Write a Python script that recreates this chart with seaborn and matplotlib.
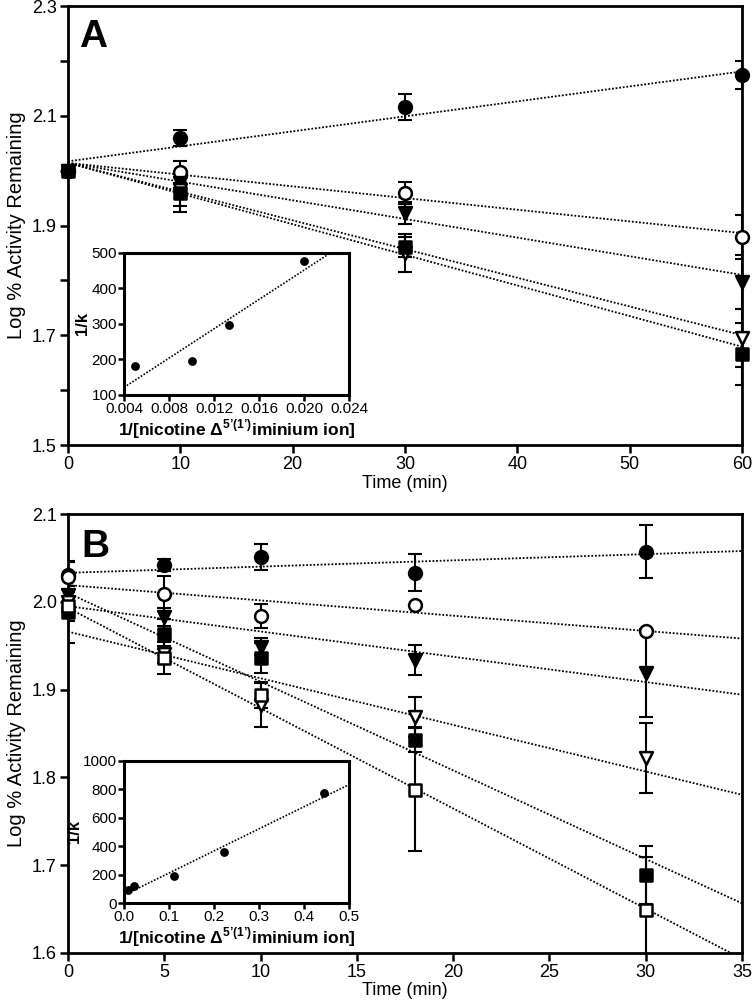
import numpy as np
import matplotlib
matplotlib.use("Agg")
import matplotlib.pyplot as plt
import seaborn as sns
from matplotlib import font_manager

# ---- panel A data ----
time_a = [0, 10, 30, 60]
a_fc = [2.000, 2.059, 2.116, 2.174]
a_fc_err = [0, 0.015, 0.024, 0.025]
a_oc = [2.000, 1.997, 1.959, 1.879]
a_oc_err = [0, 0.020, 0.020, 0.040]
a_ftri = [2.000, 1.978, 1.923, 1.797]
a_ftri_err = [0, 0.010, 0.020, 0.050]
a_otri = [2.000, 1.965, 1.850, 1.695]
a_otri_err = [0, 0.030, 0.035, 0.053]
a_fsq = [2.000, 1.959, 1.861, 1.666]
a_fsq_err = [0, 0.034, 0.018, 0.056]
# fitted lines (intercept, slope) for fc, oc, ftri, otri, fsq
a_icpt = [2.017, 2.014, 2.014, 2.014, 2.014]
a_slope = [0.00273, -0.00213, -0.0034, -0.00523, -0.00558]

# inset A
ins_a_x = [0.005, 0.010, 0.0133, 0.020]
ins_a_y = [182, 196, 297, 477]

# ---- panel B data ----
time_b = [0, 5, 10, 18, 30]
b_fc = [2.030, 2.042, 2.051, 2.033, 2.057]
b_fc_err = [0.015, 0.007, 0.015, 0.021, 0.030]
b_oc = [2.028, 2.009, 1.984, 1.996, 1.967]
b_oc_err = [0.017, 0.020, 0.014, 0, 0]
b_ftri = [2.008, 1.983, 1.949, 1.934, 1.919]
b_ftri_err = [0.010, 0.010, 0.010, 0.017, 0.050]
b_otri = [2.000, 1.940, 1.882, 1.869, 1.822]
b_otri_err = [0.047, 0.010, 0.025, 0.023, 0.040]
b_fsq = [1.988, 1.963, 1.936, 1.843, 1.689]
b_fsq_err = [0.010, 0.017, 0.017, 0.014, 0.033]
b_osq = [1.995, 1.936, 1.894, 1.786, 1.649]
b_osq_err = [0.010, 0.018, 0.015, 0.070, 0.060]
# fitted lines for fc, oc, ftri, otri, fsq, osq
b_icpt = [2.033, 2.019, 1.995, 1.966, 2.010, 1.993]
b_slope = [0.00071, -0.00174, -0.00288, -0.00531, -0.0101, -0.01142]

# inset B
ins_b_x = [0.009, 0.022, 0.111, 0.222, 0.444]
ins_b_y = [91, 120, 190, 358, 775]

sns.set_style("ticks")
names = {f.name for f in font_manager.fontManager.ttflist}
narrow = "Liberation Sans Narrow" if "Liberation Sans Narrow" in names else "Liberation Sans"
plt.rcParams['font.family'] = ['Liberation Sans', 'DejaVu Sans']
plt.rcParams['mathtext.fontset'] = 'custom'
plt.rcParams['mathtext.rm'] = 'Liberation Sans'
plt.rcParams['mathtext.bf'] = 'Liberation Sans:bold'
for k in ['text.color', 'axes.labelcolor', 'xtick.color', 'ytick.color', 'axes.edgecolor']:
    plt.rcParams[k] = 'black'

fig = plt.figure(figsize=(7.52, 10.01), dpi=100)
axA = fig.add_axes([0.0904, 0.5554, 0.8963, 0.4386])
axB = fig.add_axes([0.0904, 0.0480, 0.8963, 0.4385])

styles = {
    'fc': ('o', 'black'),
    'oc': ('o', 'white'),
    'ftri': ('v', 'black'),
    'otri': ('v', 'white'),
    'fsq': ('s', 'black'),
    'osq': ('s', 'white'),
}


def draw_series(ax, t, y, err, key):
    m, face = styles[key]
    ax.errorbar(t, y, yerr=err, fmt='none', ecolor='black', elinewidth=1.5,
                capsize=5, capthick=1.5, zorder=2)
    sns.scatterplot(x=t, y=y, marker=m, s=85, color=face, edgecolor='black',
                    linewidth=1.8, ax=ax, zorder=3, clip_on=False)


def fit_lines(ax, icpts, slopes):
    xs = np.array(ax.get_xlim())
    for b0, b1 in zip(icpts, slopes):
        ax.plot(xs, b0 + b1 * xs, color='black', lw=1.3, ls=(0, (1, 1)), zorder=1)


def style_main(ax):
    for s in ax.spines.values():
        s.set_linewidth(2.0)
    ax.tick_params(direction='out', length=6, width=1.8, pad=2, labelsize=13)
    for lab in ax.get_xticklabels() + ax.get_yticklabels():
        lab.set_family(narrow)


# panel A
axA.set_xlim(0, 60)
axA.set_ylim(1.5, 2.3)
axA.set_xticks(range(0, 61, 10))
yt = np.round(np.arange(1.5, 2.31, 0.1), 1)
axA.set_yticks(yt)
axA.set_yticklabels([f"{v:.1f}" if i % 2 == 0 else "" for i, v in enumerate(yt)])
fit_lines(axA, a_icpt, a_slope)
for t, y, e, k in [(time_a, a_fc, a_fc_err, 'fc'), (time_a, a_oc, a_oc_err, 'oc'),
                   (time_a, a_ftri, a_ftri_err, 'ftri'), (time_a, a_otri, a_otri_err, 'otri'),
                   (time_a, a_fsq, a_fsq_err, 'fsq')]:
    draw_series(axA, t, y, e, k)
style_main(axA)
axA.set_xlabel("Time (min)", fontsize=13, family=narrow, labelpad=1)
axA.set_ylabel("Log % Activity Remaining", fontsize=14.5, labelpad=4)
axA.text(0.017, 0.97, "A", transform=axA.transAxes, fontsize=28, fontweight='bold',
         ha='left', va='top')

# panel B
axB.set_xlim(0, 35)
axB.set_ylim(1.6, 2.1)
axB.set_xticks(range(0, 36, 5))
axB.set_yticks(np.round(np.arange(1.6, 2.11, 0.1), 1))
axB.set_yticklabels([f"{v:.1f}" for v in np.round(np.arange(1.6, 2.11, 0.1), 1)])
fit_lines(axB, b_icpt, b_slope)
for t, y, e, k in [(time_b, b_fc, b_fc_err, 'fc'), (time_b, b_oc, b_oc_err, 'oc'),
                   (time_b, b_ftri, b_ftri_err, 'ftri'), (time_b, b_otri, b_otri_err, 'otri'),
                   (time_b, b_fsq, b_fsq_err, 'fsq'), (time_b, b_osq, b_osq_err, 'osq')]:
    draw_series(axB, t, y, e, k)
style_main(axB)
axB.set_xlabel("Time (min)", fontsize=13, family=narrow, labelpad=1)
axB.set_ylabel("Log % Activity Remaining", fontsize=14.5, labelpad=4)
axB.text(0.02, 0.965, "B", transform=axB.transAxes, fontsize=28, fontweight='bold',
         ha='left', va='top')

inset_label = r"1/[nicotine $\mathbf{\Delta}^{\mathbf{5’(1’)}}$iminium ion]"


def draw_inset(rect, x, y, xlim, ylim, xticks, yticks, xfmt):
    ax = fig.add_axes(rect)
    ax.set_facecolor('white')
    ax.set_xlim(*xlim)
    ax.set_ylim(*ylim)
    sns.regplot(x=np.array(x), y=np.array(y), ax=ax, ci=None, truncate=False,
                scatter_kws={'s': 40, 'color': 'black', 'alpha': 1, 'zorder': 3, 'linewidths': 0},
                line_kws={'color': 'black', 'lw': 1.2, 'ls': (0, (1, 1))})
    ax.set_xlim(*xlim)
    ax.set_ylim(*ylim)
    ax.set_xticks(xticks)
    ax.set_xticklabels([xfmt.format(v) for v in xticks])
    ax.set_yticks(yticks)
    for s in ax.spines.values():
        s.set_linewidth(2.2)
    ax.tick_params(direction='out', length=4, width=1.8, pad=1, labelsize=11)
    ax.set_xlabel(inset_label, fontsize=12.5, fontweight='bold', labelpad=1)
    ax.set_ylabel("1/k", fontsize=12, fontweight='bold', labelpad=1)
    return ax


draw_inset([0.1649, 0.6054, 0.2992, 0.1419], ins_a_x, ins_a_y, (0.004, 0.024), (100, 500),
           [0.004, 0.008, 0.012, 0.016, 0.020, 0.024], [100, 200, 300, 400, 500], "{:.3f}")
draw_inset([0.1649, 0.0979, 0.2992, 0.1419], ins_b_x, ins_b_y, (0.0, 0.5), (0, 1000),
           [0.0, 0.1, 0.2, 0.3, 0.4, 0.5], [0, 200, 400, 600, 800, 1000], "{:.1f}")

fig.savefig("out.png", dpi=100)
